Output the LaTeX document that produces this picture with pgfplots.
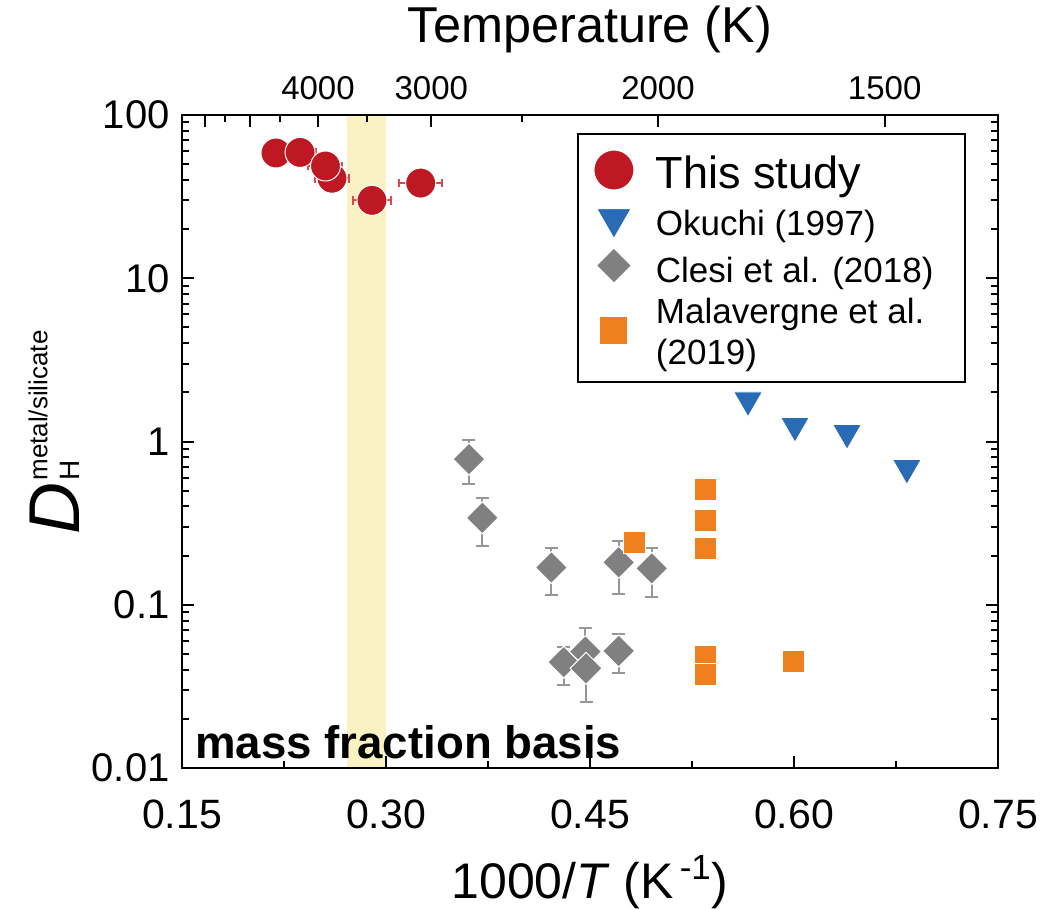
\documentclass[border=0pt]{standalone}
\usepackage{fontspec}
\setmainfont{Liberation Sans}
\usepackage{pgfplots}
\pgfplotsset{compat=1.18}
\usepackage{pgfplotstable}

\definecolor{cred}{RGB}{190,24,34}
\definecolor{errred}{RGB}{222,70,80}
\definecolor{cblue}{RGB}{41,107,181}
\definecolor{cgray}{RGB}{128,128,128}
\definecolor{errgray}{RGB}{150,150,150}
\definecolor{corange}{RGB}{240,128,30}
\definecolor{band}{RGB}{250,242,195}

\pgfplotstableread{
x y ex
0.2191 58.5 0.010
0.2368 59.0 0.012
0.2603 41.0 0.0125
0.2555 48.7 0.0125
0.2897 30.0 0.014
0.3255 38.3 0.016
}\thisstudy

\pgfplotstableread{
x y
0.5662 1.79
0.6007 1.25
0.6390 1.13
0.6830 0.69
}\okuchi

\pgfplotstableread{
x y ep em
0.3610 0.780 0.240 0.233
0.3708 0.341 0.108 0.112
0.4216 0.169 0.053 0.054
0.4711 0.182 0.063 0.065
0.4954 0.167 0.057 0.056
0.4307 0.0445 0.011 0.0122
0.4466 0.0516 0.0208 0.015
0.4471 0.0408 0.010 0.0153
0.4711 0.0521 0.0138 0.0141
}\clesi

\pgfplotstableread{
x y
0.4830 0.242
0.5350 0.509
0.5350 0.330
0.5350 0.220
0.5350 0.048
0.5350 0.0375
0.5993 0.045
}\malavergne

\begin{document}
\begin{tikzpicture}
\path[use as bounding box] (-91pt,-70.5pt) rectangle (431pt,384pt);
\begin{axis}[
  scale only axis, width=408pt, height=326.5pt,
  at={(0,0)}, anchor=south west,
  xmin=0.15, xmax=0.75, ymin=0.01, ymax=100,
  ymode=log,
  axis on top,
  xtick={0.15,0.30,0.45,0.60,0.75},
  xticklabels={0.15,0.30,0.45,0.60,0.75},
  minor xtick={0.225,0.375,0.525,0.675},
  ytick={0.01,0.1,1,10,100},
  yticklabels={0.01,0.1,1,10,100},
  minor ytick={0.02,0.03,0.04,0.05,0.06,0.07,0.08,0.09,0.2,0.3,0.4,0.5,0.6,0.7,0.8,0.9,2,3,4,5,6,7,8,9,20,30,40,50,60,70,80,90},
  xtick pos=left, ytick pos=both,
  tick align=inside,
  major tick length=6pt, minor tick length=3.5pt,
  every tick/.style={line width=1pt, black},
  axis line style={line width=1.3pt},
  /pgf/number format/assume math mode=true,
  xticklabel style={font=\fontsize{20.5}{24}\selectfont, anchor=base, yshift=-30pt, inner sep=0pt},
  yticklabel style={font=\fontsize{20}{24}\selectfont, anchor=east, xshift=-6pt, inner sep=0pt},
  xlabel={1000/\textit{T} (K\textsuperscript{\,-1})},
  every axis x label/.style={at={(0.5,-0.1991)}, anchor=base, inner sep=0pt, font=\fontsize{25}{30}\selectfont},
  ylabel={{\fontsize{36}{40}\selectfont\itshape D}\kern1pt\rlap{\fontsize{13}{13}\selectfont\raisebox{16.3pt}{metal/silicate}}{\fontsize{14}{14}\selectfont H}},
  every axis y label/.style={at={(-0.125,0.3568)}, rotate=90, anchor=base west, inner sep=0pt},
  legend style={
    at={(0.484,0.9724)}, anchor=north west,
    draw=black, line width=1pt,
    font=\fontsize{17.5}{18}\selectfont,
    inner xsep=8pt, inner ysep=5.5pt,
    row sep=0pt, column sep=9pt,
    cells={anchor=west, align=left},
  },
  legend cell align=left,
]
\addlegendimage{only marks, mark=*, mark size=10pt, mark options={fill=cred, draw=white, line width=0.5pt}}
\addlegendentry{\rule[-8.7pt]{0pt}{28.2pt}\fontsize{22.5}{24}\selectfont This study}
\addlegendimage{only marks, mark=triangle*, mark size=10pt, mark options={rotate=180, fill=cblue, draw=white, line width=0.5pt}}
\addlegendentry{\rule[-8pt]{0pt}{26pt}Okuchi (1997)}
\addlegendimage{only marks, mark=square*, mark size=6.2pt, mark options={rotate=45, fill=cgray, draw=white, line width=0.5pt}}
\addlegendentry{\rule[-7pt]{0pt}{25pt}Clesi et al. (2018)\hspace*{6pt}}
\addlegendimage{only marks, mark=square*, mark size=7pt, mark options={fill=corange, draw=white, line width=0.5pt}}
\addlegendentry{\rule{0pt}{15pt}Malavergne et al.\\[2.5pt]\raisebox{0pt}[\height][0pt]{(2019)}}

\addplot[fill=band, draw=none, forget plot] coordinates {(0.2713,0.01) (0.2997,0.01) (0.2997,100) (0.2713,100)} -- cycle;

\addplot[only marks, forget plot, mark=*, mark size=7.5pt,
  mark options={fill=cred, draw=white, line width=0.5pt},
  error bars/.cd, x dir=both, x explicit,
  error bar style={line width=1pt, errred},
  error mark=|,
  error mark options={line width=1pt, errred, mark size=2.2pt}]
  table[x=x, y=y, x error=ex] {\thisstudy};

\addplot[only marks, forget plot, mark=triangle*, mark size=8.25pt,
  mark options={rotate=180, fill=cblue, draw=white, line width=0.4pt}]
  table[x=x, y=y] {\okuchi};

\addplot[only marks, forget plot, mark=square*, mark size=5.66pt,
  mark options={rotate=45, fill=cgray, draw=white, line width=0.5pt},
  error bars/.cd, y dir=both, y explicit,
  error bar style={line width=1pt, errgray},
  error mark=|,
  error mark options={line width=1pt, errgray, mark size=3.25pt}]
  table[x=x, y=y, y error plus=ep, y error minus=em] {\clesi};

\addplot[only marks, forget plot, mark=square*, mark size=5.5pt,
  mark options={fill=corange, draw=white, line width=0.5pt}]
  table[x=x, y=y] {\malavergne};

\node[anchor=base west, inner sep=0pt, font=\bfseries\fontsize{22.8}{27}\selectfont] at (rel axis cs:0.016,0.0153) {mass fraction basis};
\end{axis}
\begin{axis}[
  scale only axis, width=408pt, height=326.5pt,
  at={(0,0)}, anchor=south west,
  xmin=0.15, xmax=0.75, ymin=0.01, ymax=100,
  ymode=log,
  xtick={0.166667,0.2,0.25,0.333333,0.5,0.666667},
  xticklabels={,,4000,3000,2000,1500},
  minor xtick={0.181818,0.222222,0.285714,0.4},
  xtick pos=right, xticklabel pos=right,
  ytick=\empty,
  tick align=inside,
  major tick length=6pt, minor tick length=3.5pt,
  every tick/.style={line width=1pt, black},
  axis line style={line width=1.3pt},
  xticklabel style={font=\fontsize{16.5}{20}\selectfont, anchor=base, yshift=7.5pt, inner sep=0pt},
  title={Temperature (K)},
  title style={at={(0.5,1.0934)}, anchor=base, inner sep=0pt, font=\fontsize{25.2}{29}\selectfont},
]
\end{axis}
\end{tikzpicture}
\end{document}
